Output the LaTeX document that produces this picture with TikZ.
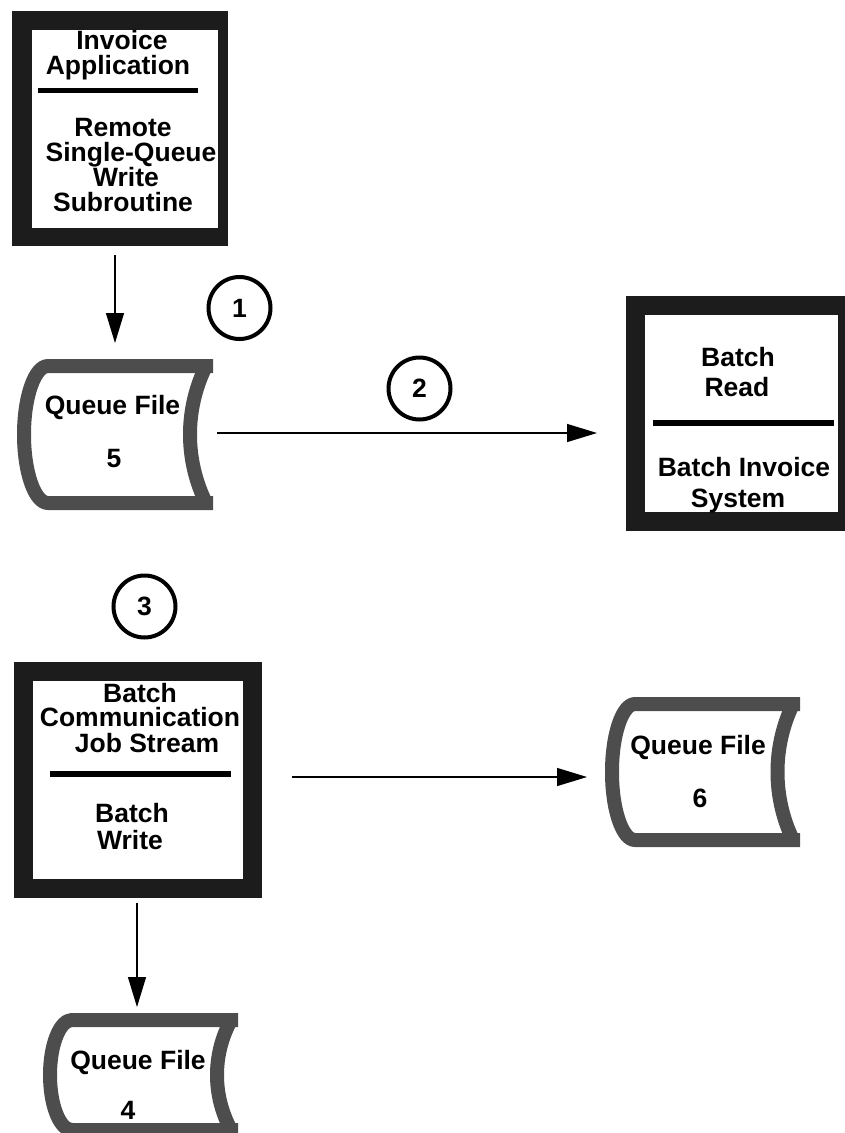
\documentclass[tikz,border=0pt]{standalone}
\usepackage{fontspec}
\setmainfont{Liberation Sans}
\usetikzlibrary{arrows.meta}
\definecolor{boxblack}{RGB}{28,28,28}
\definecolor{qfgray}{RGB}{77,77,77}
\newcommand\qfdraw[6]{% #1 Lc, #2 a, #3 T, #4 B, #5 Rout, #6 s
  \pgfmathsetmacro\qH{(#4-#3)/2}
  \pgfmathsetmacro\qRc{#5-7}
  \pgfmathsetmacro\qLa{#1+#2}
  \pgfmathsetmacro\qCx{\qRc-4*#6/3}
  \pgfmathsetmacro\qK{0.63*\qH}
  \draw[qfline] (#5,#3) -- (\qLa,#3) arc[start angle=270, end angle=90, x radius=#2, y radius=\qH] -- (#5,#4);
  \draw[qfline] (\qRc,#3) .. controls (\qCx,#3+\qK) and (\qCx,#4-\qK) .. (\qRc,#4);
}
\newcommand\tline[4]{\node[txt] (#1) at (#2,#3+9.5) {#4};}
\begin{document}
\begin{tikzpicture}[x=1pt,y=-1pt,
  txt/.style={anchor=base, inner sep=0pt, font=\fontsize{26.5}{30}\selectfont\bfseries},
  outerbox/.style={fill=boxblack, draw=none, inner sep=0pt, outer sep=0pt},
  innerbox/.style={fill=white, draw=none, inner sep=0pt, outer sep=0pt},
  divider/.style={draw=black, line width=6pt},
  qfline/.style={draw=qfgray, line width=14pt, line cap=butt, line join=round},
  arr/.style={draw=black, line width=1.3pt, -{Triangle[length=30pt,width=18pt]}},
  stepnum/.style={circle, draw=black, line width=4pt, minimum size=62pt, inner sep=0pt,
    font=\fontsize{26.5}{30}\selectfont\bfseries}]
\useasboundingbox (0,0) rectangle (845,1133);

% Box 1
\node[outerbox, minimum width=216pt, minimum height=235pt] (b1) at (120,128.5) {};
\node[innerbox, minimum width=186pt, minimum height=198pt] (b1in) at (125,129) {};
\draw[divider, line width=5pt] (38,90) -- (198,90);
\tline{t1a}{122}{40}{Invoice}
\tline{t1b}{118}{65}{Application}
\tline{t1c}{123}{127}{Remote}
\tline{t1d}{131}{152}{Single-Queue}
\tline{t1e}{126}{177}{Write}
\tline{t1f}{123}{202}{Subroutine}

% Box 2
\node[outerbox, minimum width=220pt, minimum height=235pt] (b2) at (736,413.5) {};
\node[innerbox, minimum width=193pt, minimum height=197pt] (b2in) at (741.5,413.5) {};
\draw[divider] (653,423) -- (834,423);
\tline{t2a}{738}{357}{Batch}
\tline{t2b}{737}{387}{Read}
\tline{t2c}{744}{467}{Batch Invoice}
\tline{t2d}{738}{498}{System}

% Box 3
\node[outerbox, minimum width=248pt, minimum height=236pt] (b3) at (138,780) {};
\node[innerbox, minimum width=210pt, minimum height=198pt] (b3in) at (138,780) {};
\draw[divider] (50,774) -- (231,774);
\tline{t3a}{140}{693}{Batch}
\tline{t3b}{140}{717}{Communication}
\tline{t3c}{147}{743}{Job Stream}
\tline{t3d}{132}{813}{Batch}
\tline{t3e}{130}{840}{Write}

% Queue files
\node[inner sep=0pt, minimum width=196pt, minimum height=151pt] (qf5) at (115,434.5) {};
\qfdraw{24}{24}{366}{503}{213}{16}
\tline{q5a}{112.5}{405}{Queue File}
\tline{q5b}{114}{458}{5}

\node[inner sep=0pt, minimum width=195pt, minimum height=150pt] (qf6) at (702.5,772) {};
\qfdraw{612}{23}{704}{840}{800}{15.5}
\tline{q6a}{698}{745}{Queue File}
\tline{q6b}{700}{798}{6}

\node[inner sep=0pt, minimum width=195pt, minimum height=124pt] (qf4) at (140.5,1075) {};
\qfdraw{50}{22}{1020}{1130}{238}{14}
\tline{q4a}{138}{1060}{Queue File}
\tline{q4b}{128}{1110}{4}

% Step circles
\node[stepnum] (c1) at (239.5,308) {1};
\node[stepnum] (c2) at (419.5,388.5) {2};
\node[stepnum] (c3) at (144.5,606.5) {3};

% Arrows
\coordinate (a1s) at (115,255);
\coordinate (a1e) at (115,343);
\draw[arr] (a1s) -- (a1e);
\coordinate (a2s) at (217,433);
\coordinate (a2e) at (597,433);
\draw[arr] (a2s) -- (a2e);
\coordinate (a3s) at (292,777);
\coordinate (a3e) at (587,777);
\draw[arr] (a3s) -- (a3e);
\coordinate (a4s) at (137,903);
\coordinate (a4e) at (137,1007);
\draw[arr] (a4s) -- (a4e);
\end{tikzpicture}
\end{document}
